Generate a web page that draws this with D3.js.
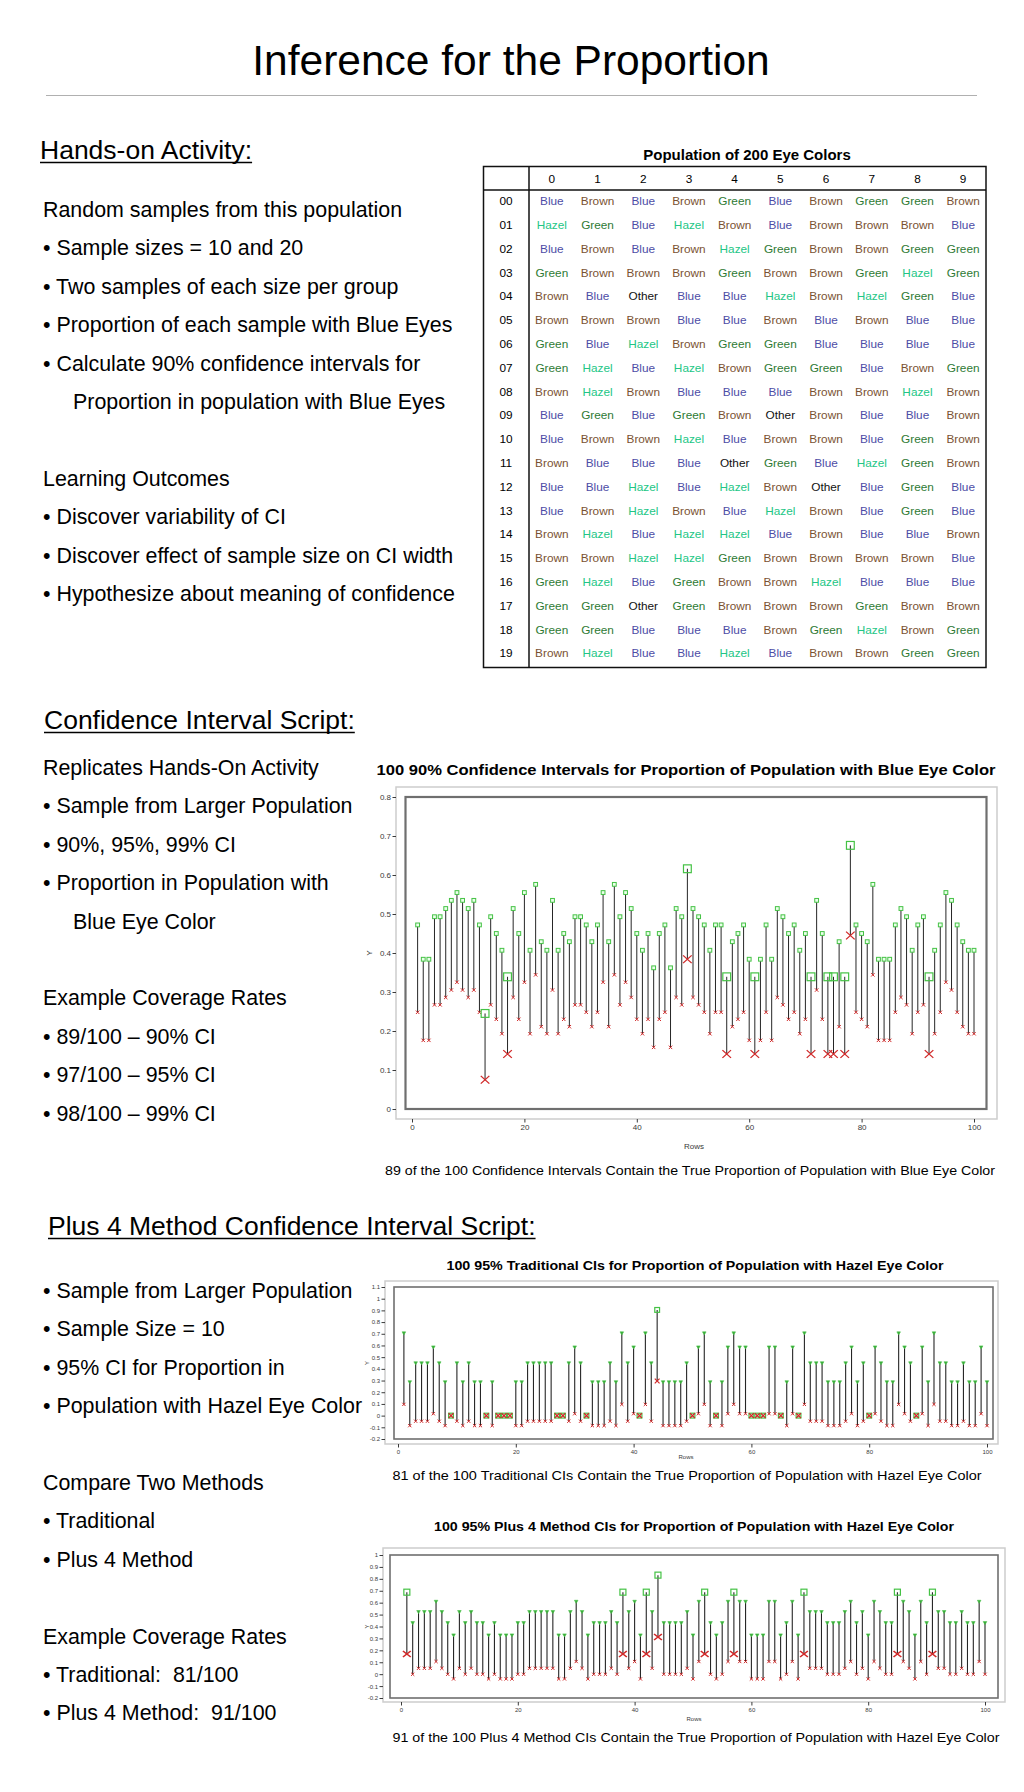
<!DOCTYPE html>
<html>
<head>
<meta charset="utf-8">
<script src="https://cdn.jsdelivr.net/npm/d3@7"></script>
<style>
  body { margin: 0; background: #fff; }
  svg { display: block; }
  text { font-family: "Liberation Sans", Arial, Helvetica, sans-serif; white-space: pre; }
</style>
</head>
<body>
<svg id="poster" width="1024" height="1792"></svg>
<script>
// ---- data -------------------------------------------------------------
const tableCols = ["0", "1", "2", "3", "4", "5", "6", "7", "8", "9"];
const tableRows = ["00", "01", "02", "03", "04", "05", "06", "07", "08", "09",
                   "10", "11", "12", "13", "14", "15", "16", "17", "18", "19"];
const eyeColors = [
  ["Blue", "Brown", "Blue", "Brown", "Green", "Blue", "Brown", "Green", "Green", "Brown"],
  ["Hazel", "Green", "Blue", "Hazel", "Brown", "Blue", "Brown", "Brown", "Brown", "Blue"],
  ["Blue", "Brown", "Blue", "Brown", "Hazel", "Green", "Brown", "Brown", "Green", "Green"],
  ["Green", "Brown", "Brown", "Brown", "Green", "Brown", "Brown", "Green", "Hazel", "Green"],
  ["Brown", "Blue", "Other", "Blue", "Blue", "Hazel", "Brown", "Hazel", "Green", "Blue"],
  ["Brown", "Brown", "Brown", "Blue", "Blue", "Brown", "Blue", "Brown", "Blue", "Blue"],
  ["Green", "Blue", "Hazel", "Brown", "Green", "Green", "Blue", "Blue", "Blue", "Blue"],
  ["Green", "Hazel", "Blue", "Hazel", "Brown", "Green", "Green", "Blue", "Brown", "Green"],
  ["Brown", "Hazel", "Brown", "Blue", "Blue", "Blue", "Brown", "Brown", "Hazel", "Brown"],
  ["Blue", "Green", "Blue", "Green", "Brown", "Other", "Brown", "Blue", "Blue", "Brown"],
  ["Blue", "Brown", "Brown", "Hazel", "Blue", "Brown", "Brown", "Blue", "Green", "Brown"],
  ["Brown", "Blue", "Blue", "Blue", "Other", "Green", "Blue", "Hazel", "Green", "Brown"],
  ["Blue", "Blue", "Hazel", "Blue", "Hazel", "Brown", "Other", "Blue", "Green", "Blue"],
  ["Blue", "Brown", "Hazel", "Brown", "Blue", "Hazel", "Brown", "Blue", "Green", "Blue"],
  ["Brown", "Hazel", "Blue", "Hazel", "Hazel", "Blue", "Brown", "Blue", "Blue", "Brown"],
  ["Brown", "Brown", "Hazel", "Hazel", "Green", "Brown", "Brown", "Brown", "Brown", "Blue"],
  ["Green", "Hazel", "Blue", "Green", "Brown", "Brown", "Hazel", "Blue", "Blue", "Blue"],
  ["Green", "Green", "Other", "Green", "Brown", "Brown", "Brown", "Green", "Brown", "Brown"],
  ["Green", "Green", "Blue", "Blue", "Blue", "Brown", "Green", "Hazel", "Brown", "Green"],
  ["Brown", "Hazel", "Blue", "Blue", "Hazel", "Blue", "Brown", "Brown", "Green", "Green"]
];

const sampleRows = d3.range(1, 101);

// 90% CIs, blue eyes
const blueTrueP = 0.35;
const blueLower = [
  0.248, 0.176, 0.176, 0.267, 0.267, 0.286, 0.305, 0.325, 0.305, 0.286,
  0.305, 0.248, 0.075, 0.267, 0.230, 0.193, 0.141, 0.286, 0.230, 0.325,
  0.193, 0.344, 0.211, 0.193, 0.305, 0.193, 0.230, 0.211, 0.267, 0.267,
  0.248, 0.211, 0.248, 0.325, 0.211, 0.344, 0.267, 0.325, 0.286, 0.230,
  0.193, 0.230, 0.158, 0.230, 0.248, 0.158, 0.286, 0.267, 0.384, 0.286,
  0.267, 0.248, 0.193, 0.248, 0.248, 0.141, 0.211, 0.230, 0.248, 0.176,
  0.141, 0.176, 0.248, 0.176, 0.286, 0.267, 0.230, 0.248, 0.193, 0.230,
  0.141, 0.305, 0.230, 0.141, 0.141, 0.211, 0.141, 0.445, 0.248, 0.230,
  0.211, 0.344, 0.176, 0.176, 0.176, 0.248, 0.286, 0.267, 0.193, 0.248,
  0.267, 0.141, 0.193, 0.248, 0.325, 0.305, 0.248, 0.211, 0.193, 0.193
];
const blueUpper = [
  0.472, 0.384, 0.384, 0.493, 0.493, 0.514, 0.535, 0.555, 0.535, 0.514,
  0.535, 0.472, 0.245, 0.493, 0.450, 0.407, 0.339, 0.514, 0.450, 0.555,
  0.407, 0.576, 0.429, 0.407, 0.535, 0.407, 0.450, 0.429, 0.493, 0.493,
  0.472, 0.429, 0.472, 0.555, 0.429, 0.576, 0.493, 0.555, 0.514, 0.450,
  0.407, 0.450, 0.362, 0.450, 0.472, 0.362, 0.514, 0.493, 0.616, 0.514,
  0.493, 0.472, 0.407, 0.472, 0.472, 0.339, 0.429, 0.450, 0.472, 0.384,
  0.339, 0.384, 0.472, 0.384, 0.514, 0.493, 0.450, 0.472, 0.407, 0.450,
  0.339, 0.535, 0.450, 0.339, 0.339, 0.429, 0.339, 0.676, 0.472, 0.450,
  0.429, 0.576, 0.384, 0.384, 0.384, 0.472, 0.514, 0.493, 0.407, 0.472,
  0.493, 0.339, 0.407, 0.472, 0.555, 0.535, 0.472, 0.429, 0.407, 0.407
];

// 95% CIs, hazel eyes
const hazelTrueP = 0.15;
const tradLower = [
  0.096, -0.086, -0.048, -0.048, -0.048, 0.016, -0.048, -0.086, 0, -0.048,
  -0.086, -0.048, -0.086, -0.086, 0, -0.086, 0, 0, 0, -0.086,
  -0.086, -0.048, -0.048, -0.048, -0.048, -0.048, 0, 0, -0.048, 0.016,
  -0.048, 0, -0.086, -0.086, -0.086, -0.048, -0.086, 0.096, -0.048, 0.016,
  0, 0.096, -0.048, 0.296, -0.086, -0.086, -0.086, -0.086, -0.048, 0,
  0.016, 0.096, -0.086, 0, -0.086, 0.016, 0.096, 0.016, 0.016, 0,
  0, 0, 0.016, 0.016, 0, -0.086, 0.016, 0, 0.096, -0.048,
  -0.048, -0.048, -0.086, -0.086, -0.086, -0.048, 0.016, -0.086, -0.048, 0,
  0.016, -0.048, -0.086, -0.086, 0.096, 0.016, -0.048, 0, 0.016, -0.086,
  0.096, -0.048, -0.048, -0.086, -0.086, -0.048, -0.086, -0.086, 0.016, -0.086
];
const tradUpper = [
  0.704, 0.286, 0.448, 0.448, 0.448, 0.584, 0.448, 0.286, 0, 0.448,
  0.286, 0.448, 0.286, 0.286, 0, 0.286, 0, 0, 0, 0.286,
  0.286, 0.448, 0.448, 0.448, 0.448, 0.448, 0, 0, 0.448, 0.584,
  0.448, 0, 0.286, 0.286, 0.286, 0.448, 0.286, 0.704, 0.448, 0.584,
  0, 0.704, 0.448, 0.904, 0.286, 0.286, 0.286, 0.286, 0.448, 0,
  0.584, 0.704, 0.286, 0, 0.286, 0.584, 0.704, 0.584, 0.584, 0,
  0, 0, 0.584, 0.584, 0, 0.286, 0.584, 0, 0.704, 0.448,
  0.448, 0.448, 0.286, 0.286, 0.286, 0.448, 0.584, 0.286, 0.448, 0,
  0.584, 0.448, 0.286, 0.286, 0.704, 0.584, 0.448, 0, 0.584, 0.286,
  0.704, 0.448, 0.448, 0.286, 0.286, 0.448, 0.286, 0.286, 0.584, 0.286
];
const plus4Lower = [
  0.169, -0.001, 0.049, 0.049, 0.049, 0.106, 0.049, -0.001, -0.040, 0.049,
  -0.001, 0.049, -0.001, -0.001, -0.040, -0.001, -0.040, -0.040, -0.040, -0.001,
  -0.001, 0.049, 0.049, 0.049, 0.049, 0.049, -0.040, -0.040, 0.049, 0.106,
  0.049, -0.040, -0.001, -0.001, -0.001, 0.049, -0.001, 0.169, 0.049, 0.106,
  -0.040, 0.169, 0.049, 0.312, -0.001, -0.001, -0.001, -0.001, 0.049, -0.040,
  0.106, 0.169, -0.001, -0.040, -0.001, 0.106, 0.169, 0.106, 0.106, -0.040,
  -0.040, -0.040, 0.106, 0.106, -0.040, -0.001, 0.106, -0.040, 0.169, 0.049,
  0.049, 0.049, -0.001, -0.001, -0.001, 0.049, 0.106, -0.001, 0.049, -0.040,
  0.106, 0.049, -0.001, -0.001, 0.169, 0.106, 0.049, -0.040, 0.106, -0.001,
  0.169, 0.049, 0.049, -0.001, -0.001, 0.049, -0.001, -0.001, 0.106, -0.001
];
const plus4Upper = [
  0.688, 0.429, 0.522, 0.522, 0.522, 0.608, 0.522, 0.429, 0.326, 0.522,
  0.429, 0.522, 0.429, 0.429, 0.326, 0.429, 0.326, 0.326, 0.326, 0.429,
  0.429, 0.522, 0.522, 0.522, 0.522, 0.522, 0.326, 0.326, 0.522, 0.608,
  0.522, 0.326, 0.429, 0.429, 0.429, 0.522, 0.429, 0.688, 0.522, 0.608,
  0.326, 0.688, 0.522, 0.831, 0.429, 0.429, 0.429, 0.429, 0.522, 0.326,
  0.608, 0.688, 0.429, 0.326, 0.429, 0.608, 0.688, 0.608, 0.608, 0.326,
  0.326, 0.326, 0.608, 0.608, 0.326, 0.429, 0.608, 0.326, 0.688, 0.522,
  0.522, 0.522, 0.429, 0.429, 0.429, 0.522, 0.608, 0.429, 0.522, 0.326,
  0.608, 0.522, 0.429, 0.429, 0.688, 0.608, 0.522, 0.326, 0.608, 0.429,
  0.688, 0.522, 0.522, 0.429, 0.429, 0.522, 0.429, 0.429, 0.608, 0.429
];

const rowTicks = [0, 20, 40, 60, 80, 100];

// ---- text -------------------------------------------------------------
const activityLines = [
  "Random samples from this population",
  "• Sample sizes = 10 and 20",
  "• Two samples of each size per group",
  "• Proportion of each sample with Blue Eyes",
  "• Calculate 90% confidence intervals for",
  "Proportion in population with Blue Eyes",
  "",
  "Learning Outcomes",
  "• Discover variability of CI",
  "• Discover effect of sample size on CI width",
  "• Hypothesize about meaning of confidence"
];
const scriptLines = [
  "Replicates Hands-On Activity",
  "• Sample from Larger Population",
  "• 90%, 95%, 99% CI",
  "• Proportion in Population with",
  "Blue Eye Color",
  "",
  "Example Coverage Rates",
  "• 89/100 – 90% CI",
  "• 97/100 – 95% CI",
  "• 98/100 – 99% CI"
];
const plus4Lines = [
  "• Sample from Larger Population",
  "• Sample Size = 10",
  "• 95% CI for Proportion in",
  "• Population with Hazel Eye Color",
  "",
  "Compare Two Methods",
  "• Traditional",
  "• Plus 4 Method",
  "",
  "Example Coverage Rates",
  "• Traditional:  81/100",
  "• Plus 4 Method:  91/100"
];
const indented = new Set(["Proportion in population with Blue Eyes", "Blue Eye Color"]);

const eyeColorFill = {
  Blue: "#4d4da6", Brown: "#7a5232", Green: "#2e7a34", Hazel: "#22c685", Other: "#111"
};

const poster = d3.select("#poster");

// title
poster.append("text")
  .attr("x", 511).attr("y", 75)
  .attr("text-anchor", "middle")
  .attr("font-size", 42.5)
  .text("Inference for the Proportion");
poster.append("line")
  .attr("x1", 46).attr("x2", 977).attr("y1", 95.5).attr("y2", 95.5)
  .attr("stroke", "#b0b0b0").attr("stroke-width", 1);

function heading(x, y, str) {
  const t = poster.append("text")
    .attr("x", x).attr("y", y)
    .attr("font-size", 26.5)
    .text(str);
  const w = t.node().getComputedTextLength();
  poster.append("line")
    .attr("x1", x).attr("x2", x + w)
    .attr("y1", y + 3.5).attr("y2", y + 3.5)
    .attr("stroke", "#000").attr("stroke-width", 1.5);
}

function textBlock(lines, x, y0, step) {
  poster.append("g").selectAll("text")
    .data(lines)
    .join("text")
    .attr("x", d => indented.has(d) ? x + 30 : x)
    .attr("y", (d, i) => y0 + i * step)
    .attr("font-size", 21.4)
    .text(d => d);
}

heading(40, 159, "Hands-on Activity:");
textBlock(activityLines, 43, 217, 38.4);
heading(44, 729, "Confidence Interval Script:");
textBlock(scriptLines, 43, 775, 38.4);
heading(48, 1235, "Plus 4 Method Confidence Interval Script:");
textBlock(plus4Lines, 43, 1298, 38.4);

// ---- population table -------------------------------------------------
function drawTable() {
  const g = poster.append("g");
  const left = 483.5, right = 986, top = 166.5, bottom = 667.5;
  const headY = 190, labelX = 529;
  const col = d3.scaleBand().domain(tableCols).range([labelX, right]);
  const row = d3.scaleBand().domain(tableRows).range([189, 665]);

  g.append("text")
    .attr("x", 747).attr("y", 159.5)
    .attr("text-anchor", "middle")
    .attr("font-size", 15).attr("font-weight", "bold")
    .text("Population of 200 Eye Colors");

  g.append("rect")
    .attr("x", left).attr("y", top)
    .attr("width", right - left).attr("height", bottom - top)
    .attr("fill", "none").attr("stroke", "#111").attr("stroke-width", 1.5);
  g.append("line").attr("x1", left).attr("x2", right).attr("y1", headY).attr("y2", headY)
    .attr("stroke", "#111").attr("stroke-width", 1.5);
  g.append("line").attr("x1", labelX).attr("x2", labelX).attr("y1", top).attr("y2", bottom)
    .attr("stroke", "#111").attr("stroke-width", 1.5);

  g.selectAll("text.colhead")
    .data(tableCols)
    .join("text")
    .attr("class", "colhead")
    .attr("x", d => col(d) + col.bandwidth() / 2)
    .attr("y", 182.5)
    .attr("text-anchor", "middle")
    .attr("font-size", 11.8)
    .text(d => d);

  g.selectAll("text.rowhead")
    .data(tableRows)
    .join("text")
    .attr("class", "rowhead")
    .attr("x", 506)
    .attr("y", d => row(d) + row.bandwidth() / 2 + 4.2)
    .attr("text-anchor", "middle")
    .attr("font-size", 11.8)
    .text(d => d);

  const cells = [];
  eyeColors.forEach((vals, r) => vals.forEach((v, c) => cells.push({ r: tableRows[r], c: tableCols[c], v })));
  g.selectAll("text.cell")
    .data(cells)
    .join("text")
    .attr("class", "cell")
    .attr("x", d => col(d.c) + col.bandwidth() / 2)
    .attr("y", d => row(d.r) + row.bandwidth() / 2 + 4.2)
    .attr("text-anchor", "middle")
    .attr("font-size", 11.8)
    .attr("fill", d => eyeColorFill[d.v])
    .text(d => d.v);
}
drawTable();

// ---- interval charts --------------------------------------------------
const GREEN = "#45c245", RED = "#d12a2a";

function xMark(sel, s) {
  return sel.attr("d", d => `M${-s},${-s}L${s},${s}M${s},${-s}L${-s},${s}`);
}

function drawIntervalChart(cfg, lower, upper, trueP) {
  const g = poster.append("g");
  const x = d3.scaleLinear().domain([0, 100]).range(cfg.xRange);
  const y = d3.scaleLinear().domain(cfg.yDomain).range(cfg.yRange);
  const [ox0, oy0, ox1, oy1] = cfg.outer;

  g.append("text")
    .attr("x", cfg.titlePos[0]).attr("y", cfg.titlePos[1])
    .attr("text-anchor", "middle")
    .attr("font-size", cfg.titleSize).attr("font-weight", "bold")
    .attr("textLength", cfg.titleLen).attr("lengthAdjust", "spacingAndGlyphs")
    .text(cfg.title);

  g.append("rect")
    .attr("x", ox0).attr("y", oy0).attr("width", ox1 - ox0).attr("height", oy1 - oy0)
    .attr("fill", "none").attr("stroke", "#cdcdcd").attr("stroke-width", 1.5);
  g.append("rect")
    .attr("x", cfg.innerX[0]).attr("y", y.range()[1])
    .attr("width", cfg.innerX[1] - cfg.innerX[0])
    .attr("height", y.range()[0] - y.range()[1])
    .attr("fill", "none").attr("stroke", "#6f6f6f").attr("stroke-width", cfg.innerStroke);

  const yAxis = d3.axisLeft(y)
    .tickValues(y.ticks(cfg.yTicks))
    .tickSize(3.5).tickPadding(1.5)
    .tickFormat(d => String(+d.toFixed(1)));
  g.append("g")
    .attr("transform", `translate(${ox0},0)`)
    .call(yAxis)
    .call(a => a.select(".domain").remove())
    .attr("font-size", cfg.tickSize)
    .attr("font-family", "Liberation Sans, Arial, sans-serif")
    .attr("color", "#3a3a3a");

  const xAxis = d3.axisBottom(x).tickValues(rowTicks).tickSize(3.5).tickPadding(2);
  g.append("g")
    .attr("transform", `translate(0,${oy1})`)
    .call(xAxis)
    .call(a => a.select(".domain").remove())
    .attr("font-size", cfg.tickSize)
    .attr("font-family", "Liberation Sans, Arial, sans-serif")
    .attr("color", "#3a3a3a");

  g.append("text")
    .attr("x", cfg.rowsPos[0]).attr("y", cfg.rowsPos[1])
    .attr("text-anchor", "middle").attr("font-size", cfg.tickSize).attr("fill", "#3a3a3a")
    .text("Rows");
  g.append("text")
    .attr("transform", `translate(${cfg.yLabelX},${(y.range()[0] + y.range()[1]) / 2}) rotate(-90)`)
    .attr("text-anchor", "middle").attr("font-size", cfg.tickSize).attr("fill", "#3a3a3a")
    .text("Y");

  const data = sampleRows.map((r, i) => ({
    row: r, lo: lower[i], hi: upper[i],
    miss: upper[i] < trueP || lower[i] > trueP
  }));

  g.selectAll("line.ci")
    .data(data)
    .join("line")
    .attr("class", "ci")
    .attr("x1", d => x(d.row)).attr("x2", d => x(d.row))
    .attr("y1", d => y(d.lo)).attr("y2", d => y(d.hi))
    .attr("stroke", "#262626").attr("stroke-width", cfg.lineWidth);

  // upper ends
  const hit = data.filter(d => !d.miss), miss = data.filter(d => d.miss);
  if (cfg.upperShape === "square") {
    g.selectAll("rect.up")
      .data(hit)
      .join("rect")
      .attr("class", "up")
      .attr("x", d => x(d.row) - cfg.mark).attr("y", d => y(d.hi) - cfg.mark)
      .attr("width", cfg.mark * 2).attr("height", cfg.mark * 2)
      .attr("fill", "#eaffea").attr("stroke", GREEN).attr("stroke-width", 1);
  } else {
    g.selectAll("path.up")
      .data(hit)
      .join("path")
      .attr("class", "up")
      .attr("transform", d => `translate(${x(d.row)},${y(d.hi)})`)
      .attr("d", `M${-cfg.mark},${-cfg.mark * 0.8}L${cfg.mark},${-cfg.mark * 0.8}L0,${cfg.mark * 0.9}Z`)
      .attr("fill", "#3aaa3a").attr("stroke", GREEN).attr("stroke-width", 0.6);
  }
  g.selectAll("path.lo")
    .data(hit)
    .join("path")
    .attr("class", "lo")
    .attr("transform", d => `translate(${x(d.row)},${y(d.lo)})`)
    .call(xMark, cfg.mark * 0.9)
    .attr("fill", "none").attr("stroke", RED).attr("stroke-width", 1);

  // intervals that miss the true proportion get large markers
  g.selectAll("rect.upmiss")
    .data(miss)
    .join("rect")
    .attr("class", "upmiss")
    .attr("x", d => x(d.row) - cfg.missMark).attr("y", d => y(d.hi) - cfg.missMark)
    .attr("width", cfg.missMark * 2).attr("height", cfg.missMark * 2)
    .attr("fill", "none").attr("stroke", GREEN).attr("stroke-width", 1.2);
  g.selectAll("path.lomiss")
    .data(miss)
    .join("path")
    .attr("class", "lomiss")
    .attr("transform", d => `translate(${x(d.row)},${y(d.lo)}) scale(${cfg.missXStretch},1)`)
    .call(xMark, cfg.missMark)
    .attr("fill", "none").attr("stroke", RED).attr("stroke-width", 1.2);

  g.append("text")
    .attr("x", cfg.captionPos[0]).attr("y", cfg.captionPos[1])
    .attr("text-anchor", "middle")
    .attr("font-size", 13.5)
    .attr("textLength", cfg.captionLen).attr("lengthAdjust", "spacingAndGlyphs")
    .text(cfg.caption);
}

drawIntervalChart({
  title: "100 90% Confidence Intervals for Proportion of Population with Blue Eye Color",
  titlePos: [686, 775], titleSize: 14.5, titleLen: 619,
  caption: "89 of the 100 Confidence Intervals Contain the True Proportion of Population with Blue Eye Color",
  captionPos: [690, 1175], captionLen: 610,
  outer: [396, 787, 997, 1119], innerX: [405.5, 986.5], innerStroke: 2.2,
  xRange: [412, 974], yDomain: [0, 0.8], yRange: [1109, 797], yTicks: 8,
  tickSize: 8, rowsPos: [694, 1149], yLabelX: 372,
  upperShape: "square", mark: 1.9, missMark: 3.9, missXStretch: 1.1, lineWidth: 1
}, blueLower, blueUpper, blueTrueP);

drawIntervalChart({
  title: "100 95% Traditional CIs for Proportion of Population with Hazel Eye Color",
  titlePos: [695, 1270], titleSize: 13, titleLen: 497,
  caption: "81 of the 100 Traditional CIs Contain the True Proportion of Population with Hazel Eye Color",
  captionPos: [687, 1480], captionLen: 589,
  outer: [385, 1281, 998, 1444], innerX: [394, 993], innerStroke: 1.6,
  xRange: [398, 987], yDomain: [-0.2, 1.1], yRange: [1439, 1287], yTicks: 13,
  tickSize: 6, rowsPos: [686, 1459], yLabelX: 369,
  upperShape: "triangle", mark: 1.8, missMark: 2.4, missXStretch: 1, lineWidth: 1.1
}, tradLower, tradUpper, hazelTrueP);

drawIntervalChart({
  title: "100 95% Plus 4 Method CIs for Proportion of Population with Hazel Eye Color",
  titlePos: [694, 1531], titleSize: 13, titleLen: 520,
  caption: "91 of the 100 Plus 4 Method CIs Contain the True Proportion of Population with Hazel Eye Color",
  captionPos: [696, 1742], captionLen: 607,
  outer: [383, 1548, 1005, 1702], innerX: [390, 998], innerStroke: 1.6,
  xRange: [401, 985], yDomain: [-0.2, 1], yRange: [1698, 1555], yTicks: 12,
  tickSize: 6, rowsPos: [694, 1721], yLabelX: 369,
  upperShape: "triangle", mark: 1.8, missMark: 3, missXStretch: 1.3, lineWidth: 1.1
}, plus4Lower, plus4Upper, hazelTrueP);
</script>
</body>
</html>
